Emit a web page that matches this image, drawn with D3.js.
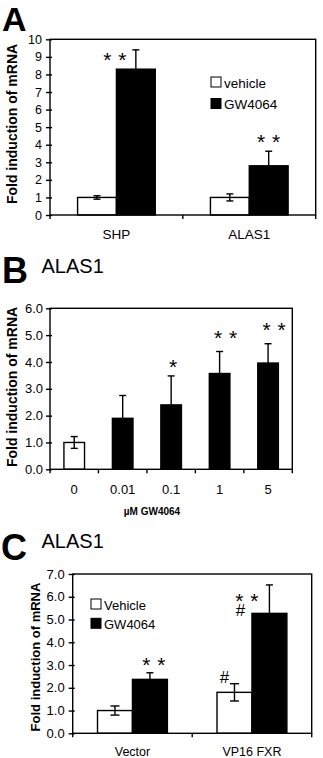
<!DOCTYPE html>
<html>
<head>
<meta charset="utf-8">
<script src="https://cdn.jsdelivr.net/npm/d3@7"></script>
<style>
  body { margin: 0; background: #fff; }
  svg { display: block; }
  text { font-family: "Liberation Sans", Arial, Helvetica, sans-serif; fill: #000; }
</style>
</head>
<body>
<svg id="fig" width="323" height="758"></svg>
<script>
// ---- Panel A: SHP and ALAS1 mRNA, vehicle vs GW4064 ----
const genesA = ["SHP", "ALAS1"];
const seriesA = ["vehicle", "GW4064"];
const vehicleA = [1.0, 1.0];
const vehicleErrA = [0.1, 0.2];
const gw4064A = [8.3, 2.8];
const gw4064ErrA = [1.1, 0.83];
const yTicksA = [0, 1, 2, 3, 4, 5, 6, 7, 8, 9, 10];
const sigA = ["* *", "* *"];

// ---- Panel B: ALAS1 dose response to GW4064 (µM) ----
const dosesB = ["0", "0.01", "0.1", "1", "5"];
const foldB = [1.0, 1.9, 2.4, 3.57, 3.96];
const errB = [0.22, 0.85, 1.08, 0.82, 0.72];
const yTicksB = [0, 1, 2, 3, 4, 5, 6];
const sigB = ["", "", "*", "* *", "* *"];

// ---- Panel C: ALAS1 with Vector or VP16 FXR ----
const constructsC = ["Vector", "VP16 FXR"];
const seriesC = ["Vehicle", "GW4064"];
const vehicleC = [1.0, 1.8];
const vehicleErrC = [0.2, 0.38];
const gw4064C = [2.37, 5.27];
const gw4064ErrC = [0.29, 1.25];
const yTicksC = [0, 1, 2, 3, 4, 5, 6, 7];
const sigVehicleC = ["", "#"];
const sigGwC = [["* *"], ["* *", "#"]];

const svg = d3.select("#fig");
const LW = 1.4;

function frameAndAxes(g, cfg) {
  const x0 = cfg.x0, y = cfg.y;
  const [L, R] = x0.range();
  const B = y.range()[0], T = y.range()[1];

  // y axis with ticks crossing the line
  const ya = g.append("g").attr("transform", `translate(${L},0)`)
    .call(d3.axisLeft(y).tickValues(cfg.yTicks).tickFormat(cfg.fmt)
      .tickSizeInner(4).tickSizeOuter(0).tickPadding(cfg.pad));
  ya.select(".domain").remove();
  ya.selectAll(".tick line").attr("x2", -4).attr("x1", 2).attr("stroke", "#000").attr("stroke-width", LW);
  ya.selectAll(".tick text").style("font-size", cfg.tickFont + "px").attr("fill", "#000");

  // category labels under each band
  const xa = g.append("g").attr("transform", `translate(0,${B})`)
    .call(d3.axisBottom(x0).tickSize(0).tickPadding(cfg.catPad));
  xa.select(".domain").remove();
  xa.selectAll(".tick text").style("font-size", cfg.catFont + "px").attr("fill", "#000");

  // boundary ticks below the x axis
  const step = x0.step();
  const bounds = x0.domain().map(c => x0(c) + x0.bandwidth() / 2 - step / 2);
  bounds.push(x0(x0.domain()[x0.domain().length - 1]) + x0.bandwidth() / 2 + step / 2);
  g.selectAll(null).data(bounds).join("line")
    .attr("x1", d => d).attr("x2", d => d)
    .attr("y1", B).attr("y2", B + 4)
    .attr("stroke", "#000").attr("stroke-width", LW);

  // plot frame
  g.append("rect").attr("x", L).attr("y", T)
    .attr("width", R - L).attr("height", B - T)
    .attr("fill", "none").attr("stroke", "#000").attr("stroke-width", LW);
}

function errorBar(g, y, xc, v, e, both, cap) {
  const lo = both ? v - e : v;
  g.append("line").attr("x1", xc).attr("x2", xc)
    .attr("y1", y(lo)).attr("y2", y(v + e))
    .attr("stroke", "#000").attr("stroke-width", LW);
  g.append("line").attr("x1", xc - cap / 2).attr("x2", xc + cap / 2)
    .attr("y1", y(v + e)).attr("y2", y(v + e))
    .attr("stroke", "#000").attr("stroke-width", LW);
  if (both) {
    g.append("line").attr("x1", xc - cap / 2).attr("x2", xc + cap / 2)
      .attr("y1", y(v - e)).attr("y2", y(v - e))
      .attr("stroke", "#000").attr("stroke-width", LW);
  }
}

function bar(g, y, x, w, v, filled) {
  g.append("rect").attr("x", x).attr("y", y(v))
    .attr("width", w).attr("height", y(0) - y(v))
    .attr("fill", filled ? "#000" : "#fff")
    .attr("stroke", "#000").attr("stroke-width", LW);
}

function yTitle(g, x, yc, size) {
  g.append("text").attr("transform", `translate(${x},${yc}) rotate(-90)`)
    .attr("text-anchor", "middle").style("font-size", size + "px")
    .style("font-weight", "bold").text("Fold induction of mRNA");
}

function stars(g, x, yc, txt, size) {
  // glyph centre sits about 0.57em above the baseline
  g.append("text").attr("x", x).attr("y", yc + size * 0.57)
    .attr("text-anchor", "middle").style("font-size", size + "px")
    .style("word-spacing", "1px").text(txt);
}

function hash(g, x, baseline, size) {
  g.append("text").attr("x", x).attr("y", baseline)
    .attr("text-anchor", "middle").style("font-size", size + "px").text("#");
}

function legend(g, x, y0, gap, labels, size) {
  labels.forEach((lab, i) => {
    g.append("rect").attr("x", x).attr("y", y0 + i * gap).attr("width", 10).attr("height", 10)
      .attr("fill", i === 0 ? "#fff" : "#000").attr("stroke", "#000").attr("stroke-width", 1);
    g.append("text").attr("x", x + 13).attr("y", y0 + i * gap + 10.5)
      .style("font-size", size + "px").text(lab);
  });
}

// ================= Panel A =================
{
  const g = svg.append("g");
  const x0 = d3.scaleBand().domain(genesA).range([50, 315.7]);
  const x1 = d3.scaleBand().domain(seriesA).range([0, x0.bandwidth()]).paddingOuter(0.71);
  const y = d3.scaleLinear().domain([0, 10]).range([215, 39.3]);

  genesA.forEach((c, i) => {
    bar(g, y, x0(c) + x1("vehicle"), x1.bandwidth(), vehicleA[i], false);
    bar(g, y, x0(c) + x1("GW4064"), x1.bandwidth(), gw4064A[i], true);
    errorBar(g, y, x0(c) + x1("vehicle") + x1.bandwidth() / 2, vehicleA[i], vehicleErrA[i], true, 7);
    errorBar(g, y, x0(c) + x1("GW4064") + x1.bandwidth() / 2, gw4064A[i], gw4064ErrA[i], false, 7);
  });
  frameAndAxes(g, { x0, y, yTicks: yTicksA, fmt: d3.format("d"), pad: 4, tickFont: 12.5, catPad: 14, catFont: 13.5 });

  // significance marks
  const cx = i => x0(genesA[i]) + x1("GW4064") + x1.bandwidth() / 2;
  const top = i => y(gw4064A[i] + gw4064ErrA[i]);
  stars(g, cx(0) - 21, top(0) + 5, sigA[0], 21);
  stars(g, cx(1), top(1) - 14.5, sigA[1], 21);

  legend(g, 211, 77, 21.5, seriesA, 13.5);
  yTitle(g, 16.5, 124, 14);
  g.append("text").attr("x", 2).attr("y", 31).style("font-size", "34px").style("font-weight", "bold").text("A");
}

// ================= Panel B =================
{
  const g = svg.append("g");
  const x0 = d3.scaleBand().domain(dosesB).range([50, 292.3]).paddingInner(0.575).paddingOuter(0.2875);
  const y = d3.scaleLinear().domain([0, 6]).range([469.3, 308.3]);

  dosesB.forEach((c, i) => {
    bar(g, y, x0(c), x0.bandwidth(), foldB[i], i > 0);
    errorBar(g, y, x0(c) + x0.bandwidth() / 2, foldB[i], errB[i], i === 0, 7);
  });
  frameAndAxes(g, { x0, y, yTicks: yTicksB, fmt: d3.format(".1f"), pad: 3, tickFont: 13, catPad: 15, catFont: 13 });

  const cx = i => x0(dosesB[i]) + x0.bandwidth() / 2;
  const top = i => y(foldB[i] + errB[i]);
  stars(g, cx(2) + 2, top(2) - 14, sigB[2], 21);
  stars(g, cx(3) + 6, top(3) - 18.6, sigB[3], 21);
  stars(g, cx(4) + 6, top(4) - 19, sigB[4], 21);

  g.append("text").attr("x", 152).attr("y", 515).attr("text-anchor", "middle")
    .style("font-size", "10px").style("font-weight", "bold").text("µM GW4064");
  yTitle(g, 16.5, 387, 14);
  g.append("text").attr("x", 2).attr("y", 283).style("font-size", "36px").style("font-weight", "bold").text("B");
  g.append("text").attr("x", 41.5).attr("y", 273.3).style("font-size", "20px").text("ALAS1");
}

// ================= Panel C =================
{
  const g = svg.append("g");
  const x0 = d3.scaleBand().domain(constructsC).range([72.7, 311.7]);
  const x1 = d3.scaleBand().domain(seriesC).range([0, x0.bandwidth()]).paddingOuter(0.71);
  const y = d3.scaleLinear().domain([0, 7]).range([733.3, 574]);

  constructsC.forEach((c, i) => {
    bar(g, y, x0(c) + x1("Vehicle"), x1.bandwidth(), vehicleC[i], false);
    bar(g, y, x0(c) + x1("GW4064"), x1.bandwidth(), gw4064C[i], true);
    errorBar(g, y, x0(c) + x1("Vehicle") + x1.bandwidth() / 2, vehicleC[i], vehicleErrC[i], true, 9);
    errorBar(g, y, x0(c) + x1("GW4064") + x1.bandwidth() / 2, gw4064C[i], gw4064ErrC[i], false, 7);
  });
  frameAndAxes(g, { x0, y, yTicks: yTicksC, fmt: d3.format(".1f"), pad: 4, tickFont: 13, catPad: 14, catFont: 12.5 });

  const cxV = i => x0(constructsC[i]) + x1("Vehicle") + x1.bandwidth() / 2;
  const cxG = i => x0(constructsC[i]) + x1("GW4064") + x1.bandwidth() / 2;
  const topV = i => y(vehicleC[i] + vehicleErrC[i]);
  const topG = i => y(gw4064C[i] + gw4064ErrC[i]);
  stars(g, cxG(0) + 4, topG(0) - 12.7, sigGwC[0][0], 21);
  hash(g, cxV(1) - 10, topV(1) - 1, 17);

  // stacked "* *" over "#" label on the VP16 FXR + GW4064 bar
  const lab = g.append("text").attr("text-anchor", "middle");
  lab.append("tspan").attr("x", cxG(1) - 22.7).attr("y", topG(1) + 11 + 21 * 0.57)
    .style("font-size", "21px").style("word-spacing", "1px").text(sigGwC[1][0]);
  lab.append("tspan").attr("x", cxG(1) - 29).attr("y", topG(1) + 31.5)
    .style("font-size", "17px").text(sigGwC[1][1]);

  legend(g, 91, 599, 19.3, seriesC, 13);
  yTitle(g, 39.5, 657, 13);
  g.append("text").attr("x", 1).attr("y", 560).style("font-size", "36px").style("font-weight", "bold").text("C");
  g.append("text").attr("x", 41.5).attr("y", 548.3).style("font-size", "20px").text("ALAS1");
}
</script>
</body>
</html>
